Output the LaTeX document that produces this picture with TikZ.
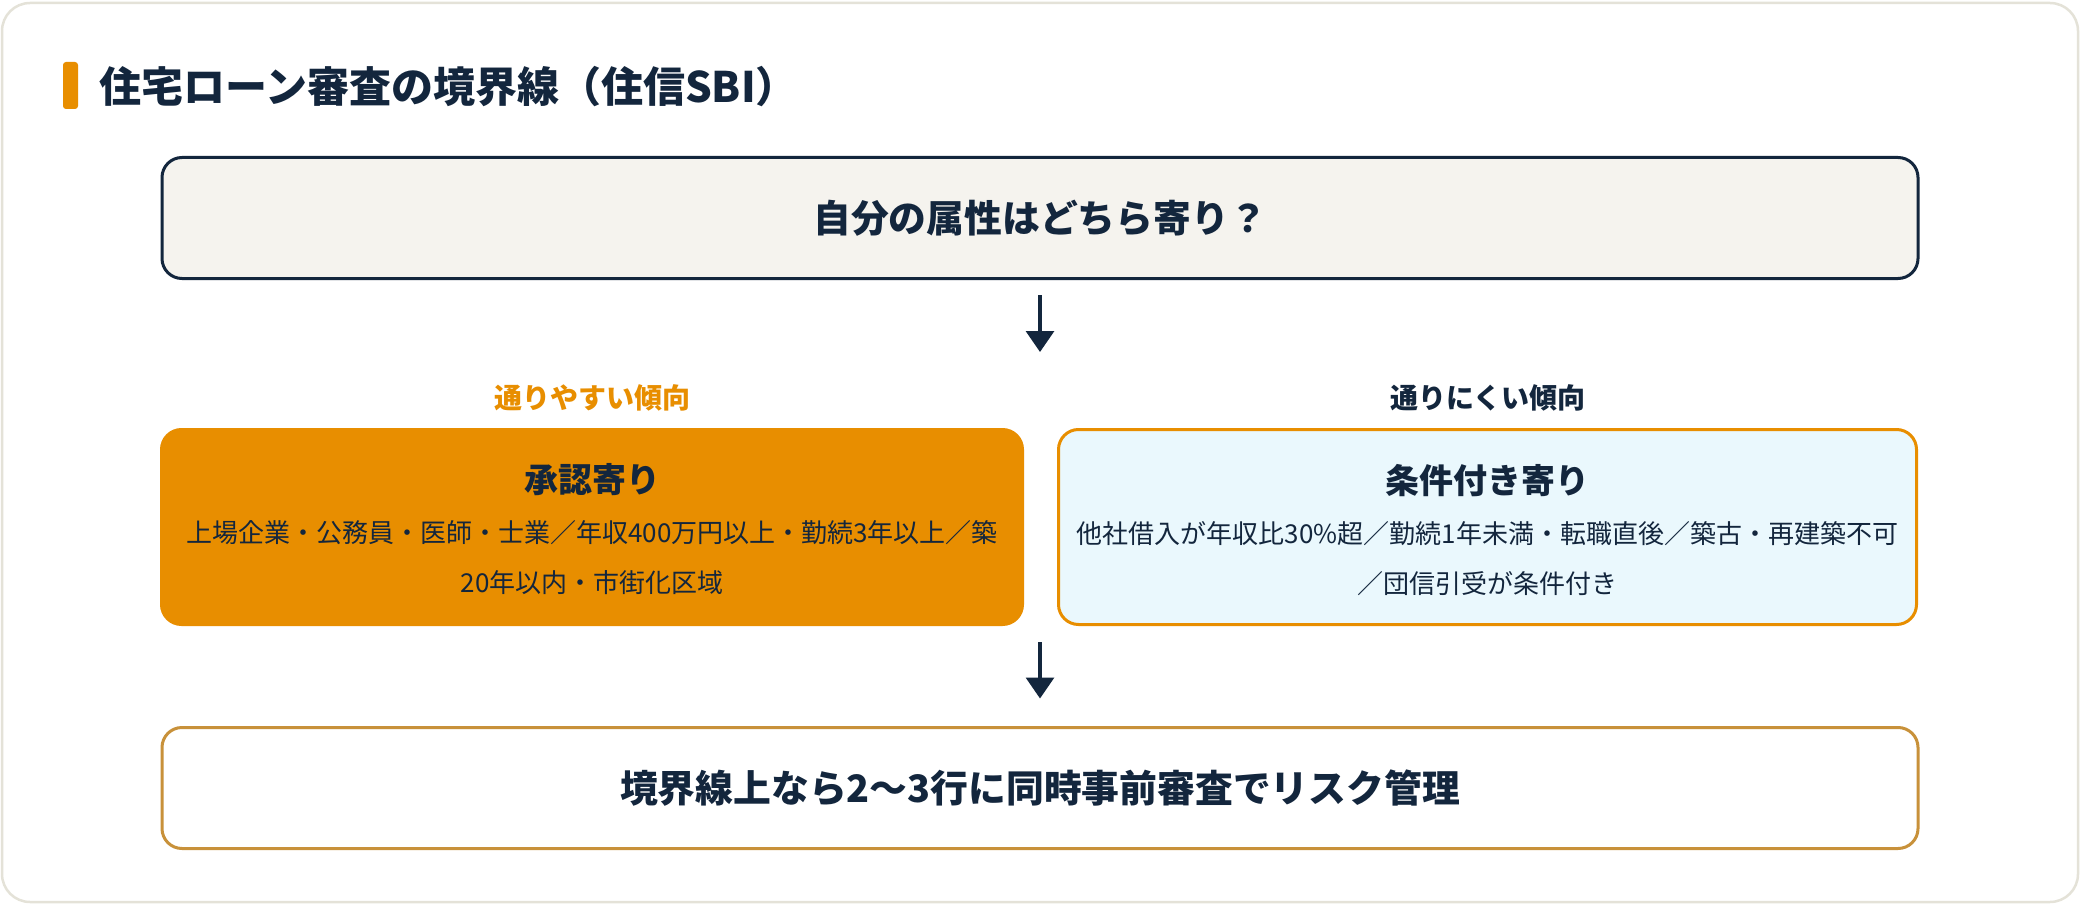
\documentclass[tikz,border=0pt]{standalone}
\usepackage{fontspec}
\setmainfont{Noto Sans CJK JP}
\usetikzlibrary{arrows.meta}
\definecolor{navy}{HTML}{13263D}
\definecolor{accent}{HTML}{E88E00}
\definecolor{cardline}{HTML}{E4E2D8}
\definecolor{topfill}{HTML}{F5F3EE}
\definecolor{rightfill}{HTML}{EAF8FD}
\definecolor{gold}{HTML}{C8913A}
\tikzset{
  boxbase/.style={rectangle, rounded corners=20pt, line width=3pt, inner sep=0pt, align=center},
  bigtext/.style={font=\bfseries\fontsize{37.8}{45}\selectfont, text=navy},
  subtitle/.style={font=\bfseries\fontsize{34}{40}\selectfont, text=navy, inner sep=0pt},
  bodytext/.style={font=\fontsize{26}{50}\selectfont, text=navy, align=center, inner sep=0pt},
  sidelabel/.style={font=\bfseries\fontsize{28}{33}\selectfont, inner sep=0pt},
  arr/.style={draw=navy, line width=3.3pt, -{Triangle[width=28pt,length=21pt]}}
}
\begin{document}
\begin{tikzpicture}[x=1pt,y=-1pt]
\useasboundingbox (0,0) rectangle (2080,904);
% card
\draw[cardline, fill=white, line width=2.5pt, rounded corners=28pt] (2,3) rectangle (2078,902);
% title
\fill[accent, rounded corners=3pt] (63,62) rectangle (78,109);
\node[anchor=west, inner sep=0pt, font=\bfseries\fontsize{42}{50}\selectfont, text=navy] (title) at (99,87) {住宅ローン審査の境界線（住信SBI）};
% top box
\node[boxbase, draw=navy, fill=topfill, minimum width=1756pt, minimum height=121pt, bigtext] (top) at (1040,218) {自分の属性はどちら寄り？};
\coordinate (a1e) at (1040,352);
\draw[arr, shorten <=15pt] (top.south) -- (a1e);
% side labels
\node[sidelabel, text=accent] (llab) at (592,398) {通りやすい傾向};
\node[sidelabel, text=navy] (rlab) at (1488,398) {通りにくい傾向};
% left box
\node[boxbase, draw=accent, fill=accent, minimum width=861pt, minimum height=195pt] (lbox) at (592,527) {};
\node[subtitle] (ltitle) at (592,480) {承認寄り};
\node[bodytext] (lbody) at (592,558) {上場企業・公務員・医師・士業／年収400万円以上・勤続3年以上／築\\20年以内・市街化区域};
% right box
\node[boxbase, draw=accent, fill=rightfill, minimum width=858pt, minimum height=195pt] (rbox) at (1487.5,527) {};
\node[subtitle] (rtitle) at (1487.5,481) {条件付き寄り};
\node[bodytext] (rbody) at (1487.5,559) {他社借入が年収比30\%超／勤続1年未満・転職直後／築古・再建築不可\\／団信引受が条件付き};
% bottom box
\node[boxbase, draw=gold, fill=white, minimum width=1756pt, minimum height=121pt, bigtext] (bottom) at (1040,788) {境界線上なら2〜3行に同時事前審査でリスク管理};
\coordinate (a2s) at (1040,642);
\draw[arr, shorten >=27.5pt] (a2s) -- (bottom.north);
\end{tikzpicture}
\end{document}
